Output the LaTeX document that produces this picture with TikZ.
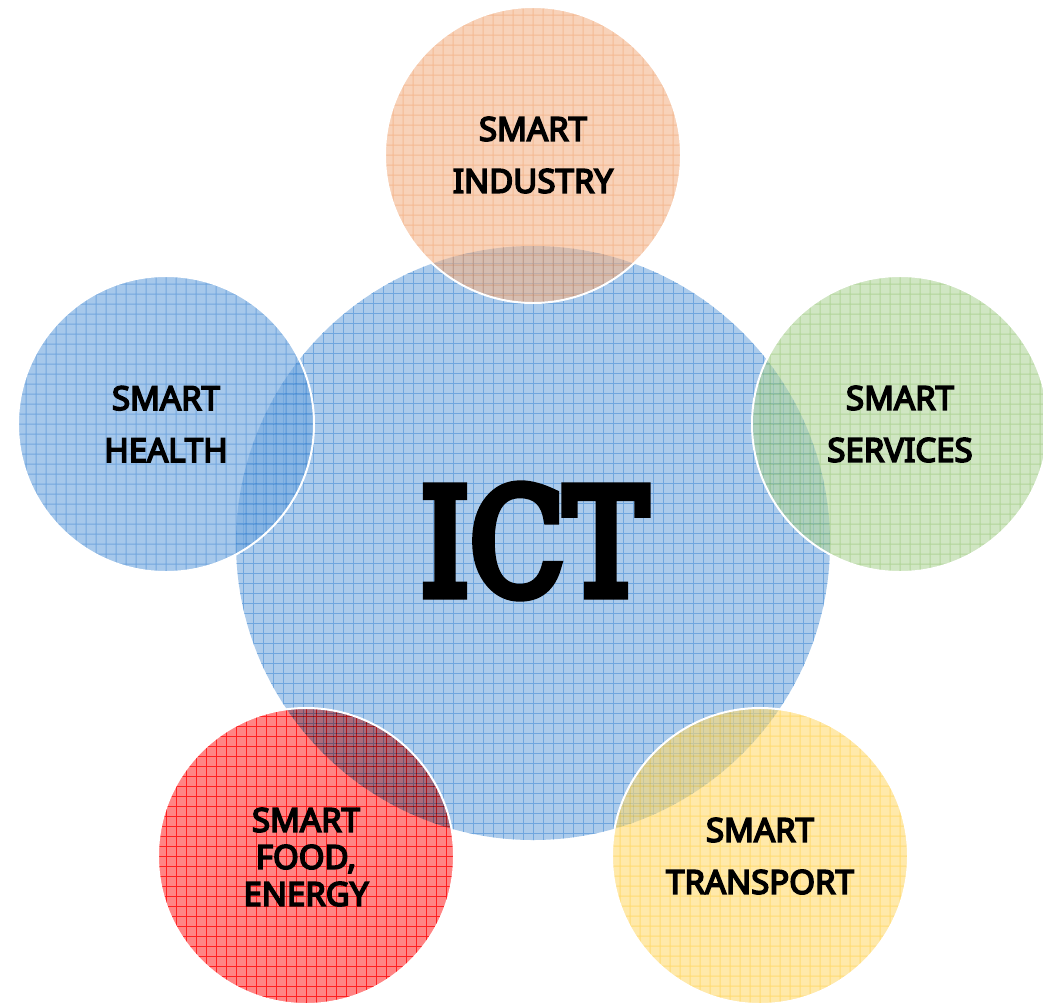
\documentclass[tikz,border=0pt]{standalone}
\usepackage{fontspec}
\usepackage{graphicx}
\setmainfont{Noto Sans}
% heavy faces for the labels and the title
\newfontfamily\tagfont{Noto Sans}[FakeBold=5]
\newfontfamily\ictfont{DejaVu Serif}[FakeBold=7]

% central disc, opaque
\definecolor{coreFill}{RGB}{172,203,235}
\definecolor{coreLine}{RGB}{112,166,222}
% satellite discs: colours before the 60% group opacity
\definecolor{orangeFill}{RGB}{243,180,138}
\definecolor{orangeLine}{RGB}{237,140,75}
\definecolor{blueFill}{RGB}{118,170,224}
\definecolor{blueLine}{RGB}{40,120,205}
\definecolor{greenFill}{RGB}{177,213,155}
\definecolor{greenLine}{RGB}{125,185,85}
\definecolor{yellowFill}{RGB}{255,218,113}
\definecolor{yellowLine}{RGB}{255,195,20}
% red disc, multiplied onto what lies below
\definecolor{redFill}{RGB}{255,132,132}
\definecolor{redLine}{RGB}{255,60,60}

\tikzset{
  disc/.style n args={3}{
    circle, inner sep=0pt, minimum size=#1, fill=#2,
    path picture={
      \draw[#3, line width=1pt]
        ([shift={(-10pt,-10pt)}]path picture bounding box.south west)
        grid[step=10pt]
        ([shift={(10pt,10pt)}]path picture bounding box.north east);
    }
  },
  smalldisc/.style 2 args={disc={296pt}{#1}{#2}},
  tag/.style={align=center, font=\tagfont\fontsize{33}{52}\selectfont},
  tagtight/.style={align=center, font=\tagfont\fontsize{33}{37}\selectfont},
  rim/.style={draw=white, line width=2pt},
  glassy/.style={transparency group, opacity=0.6}
}

\begin{document}
\begin{tikzpicture}[x=1pt,y=-1pt]
\useasboundingbox (0,0) rectangle (1043,1004);
\clip (0,0) rectangle (1043,1004);

% central disc
\node[disc={594pt}{coreFill}{coreLine}] (core) at (533,543) {};

% satellite discs
\begin{scope}[glassy]
  \node[smalldisc={orangeFill}{orangeLine}] (industry) at (533,155) {};
\end{scope}
\begin{scope}[glassy, opacity=0.65]
  \node[smalldisc={blueFill}{blueLine}] (health) at (166,424) {};
\end{scope}
\begin{scope}[glassy]
  \node[smalldisc={greenFill}{greenLine}] (services) at (900,424) {};
\end{scope}
\begin{scope}[glassy]
  \node[smalldisc={yellowFill}{yellowLine}] (transport) at (760,856) {};
\end{scope}
\begin{scope}[blend mode=multiply]
  \node[smalldisc={redFill}{redLine}] (food) at (306,856) {};
\end{scope}

% white rims of the satellite discs
\foreach \n in {industry,health,services,food,transport}
  \draw[rim] (\n.center) circle[radius=148pt];

% labels
\node[font=\ictfont] (ict) at (534,541) {\resizebox{227pt}{109pt}{ICT}};
\node[tag] (industry-text) at (industry.center) {SMART\\INDUSTRY};
\node[tag] (health-text) at (health.center) {SMART\\HEALTH};
\node[tag] (services-text) at (services.center) {SMART\\SERVICES};
\node[tagtight] (food-text) at ([yshift=-1pt]food.center) {SMART\\FOOD,\\ENERGY};
\node[tag] (transport-text) at (transport.center) {SMART\\TRANSPORT};
\end{tikzpicture}
\end{document}
